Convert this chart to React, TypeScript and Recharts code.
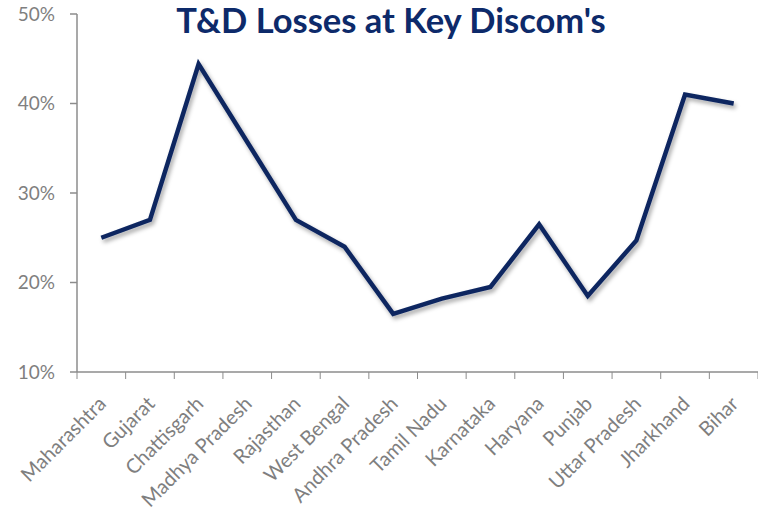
import React from 'react';
import { LineChart, Line, XAxis, YAxis } from 'recharts';

const categories = ['Maharashtra', 'Gujarat', 'Chattisgarh', 'Madhya Pradesh', 'Rajasthan', 'West Bengal', 'Andhra Pradesh', 'Tamil Nadu', 'Karnataka', 'Haryana', 'Punjab', 'Uttar Pradesh', 'Jharkhand', 'Bihar'];
const losses = [25.0, 27.0, 44.4, 35.7, 27.0, 24.0, 16.5, 18.2, 19.5, 26.5, 18.5, 24.7, 41.0, 40.0];
const yTicks = [10, 20, 30, 40, 50];
const title = "T&D Losses at Key Discom's";

const data = categories.map((name, i) => ({ name, value: losses[i] }));

const W = 758;
const H = 507;
const LEFT = 77;
const RIGHT = 0;
const TOP = 14;
const BOTTOM = 135;
const BAND = (W - LEFT - RIGHT) / categories.length;
const GRAY = '#7f7f7f';
const AXIS = '#8c8c8c';
const NAVY = '#0b2560';
const FONT = 'Lato, "Open Sans", sans-serif';

const XTick = (props: any) => {
  const { x, y, payload, index } = props;
  const last = index === categories.length - 1;
  const tx = x + 6;
  const ty = y + 33;
  return (
    <g>
      <line x1={x - BAND / 2} y1={y} x2={x - BAND / 2} y2={y + 7} stroke={AXIS} strokeWidth={1} />
      {last && <line x1={x + BAND / 2} y1={y} x2={x + BAND / 2} y2={y + 7} stroke={AXIS} strokeWidth={1} />}
      <text
        x={tx}
        y={ty}
        textAnchor="end"
        fill={GRAY}
        fontSize={20}
        fontFamily={FONT}
        transform={`rotate(-45 ${tx} ${ty})`}
      >
        {payload.value}
      </text>
    </g>
  );
};

export default function App() {
  return (
    <div style={{ position: 'absolute', left: 0, top: 0, width: W, height: H, background: '#fff', overflow: 'hidden' }}>
      <div
        style={{
          position: 'absolute',
          left: 0,
          width: 782,
          top: 3,
          lineHeight: '34px',
          textAlign: 'center',
          fontFamily: FONT,
          fontWeight: 700,
          fontSize: 34.5,
          color: '#0d2a6a',
          zIndex: 2,
        }}
      >
        {title}
      </div>
      <LineChart width={W} height={H} data={data} margin={{ top: TOP, right: RIGHT, left: 0, bottom: 0 }}>
        <defs>
          <filter id="shadow" x="-10%" y="-10%" width="130%" height="130%">
            <feDropShadow dx="2" dy="3" stdDeviation="2" floodColor="#000" floodOpacity="0.35" />
          </filter>
        </defs>
        <XAxis
          dataKey="name"
          scale="band"
          interval={0}
          height={BOTTOM}
          tickSize={0}
          tickMargin={0}
          tickLine={false}
          axisLine={{ stroke: AXIS, strokeWidth: 1.5 }}
          tick={<XTick />}
        />
        <YAxis
          width={LEFT}
          domain={[10, 50]}
          ticks={yTicks}
          tickFormatter={(v: number) => `${v}%`}
          tickSize={7}
          tickMargin={15}
          axisLine={{ stroke: AXIS, strokeWidth: 1.5 }}
          tickLine={{ stroke: AXIS, strokeWidth: 1.5 }}
          tick={{ fill: GRAY, fontSize: 19, fontFamily: FONT }}
        />
        <Line
          type="linear"
          dataKey="value"
          stroke={NAVY}
          strokeWidth={4.5}
          dot={false}
          activeDot={false}
          isAnimationActive={false}
          filter="url(#shadow)"
        />
      </LineChart>
    </div>
  );
}
